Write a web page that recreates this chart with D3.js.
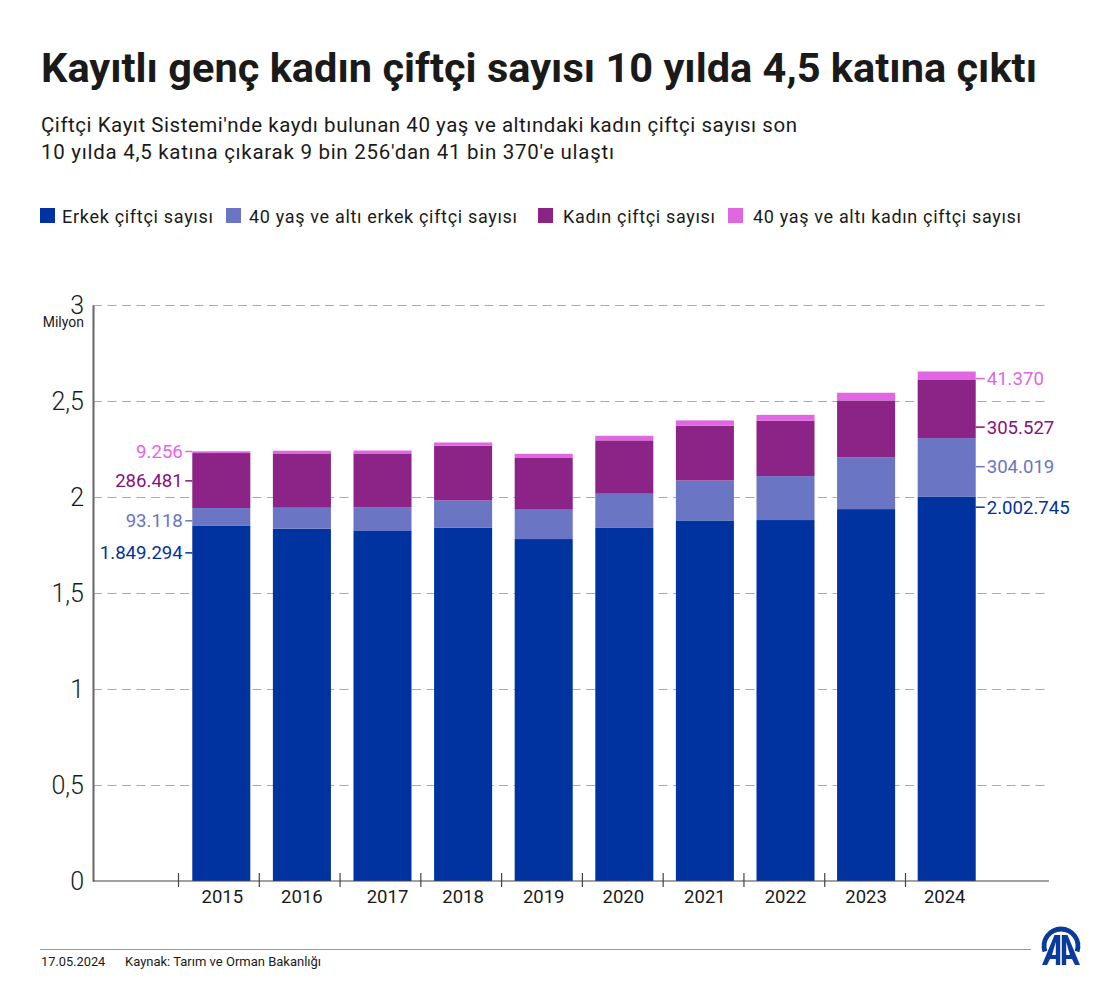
<!DOCTYPE html>
<html lang="tr">
<head>
<meta charset="utf-8">
<title>Kayıtlı genç kadın çiftçi sayısı</title>
<script src="https://cdn.jsdelivr.net/npm/d3@7"></script>
<style>
  html, body { margin: 0; padding: 0; background: #fff; }
  svg { display: block; }
  text { font-family: Roboto, sans-serif; fill: #1a1a1a; }
</style>
</head>
<body>
<svg id="chart" width="1120" height="999"></svg>
<script>
const years = [2015, 2016, 2017, 2018, 2019, 2020, 2021, 2022, 2023, 2024];

const seriesNames = ['Erkek çiftçi sayısı', '40 yaş ve altı erkek çiftçi sayısı', 'Kadın çiftçi sayısı', '40 yaş ve altı kadın çiftçi sayısı'];
const seriesColors = ['#0033a0', '#6a75c3', '#8c2386', '#e066e2'];

const erkek = [1849294, 1835000, 1823000, 1841000, 1781000, 1839000, 1878000, 1880000, 1937000, 2002745];
const gencErkek = [93118, 109000, 122000, 141000, 153000, 178000, 208000, 229000, 269000, 304019];
const kadin = [286481, 283000, 282000, 285000, 272000, 278000, 285000, 288000, 297000, 305527];
const gencKadin = [9256, 14000, 15000, 17000, 19000, 24000, 28000, 31000, 40000, 41370];

const yTicks = [0, 0.5, 1, 1.5, 2, 2.5, 3];

const leftLabels = ['1.849.294', '93.118', '286.481', '9.256'];
const leftLabelColors = ['#0033a0', '#6a75c3', '#87107f', '#ee5fee'];
const leftAnchors = [1.709, 1.876, 2.084, 2.237]; // in milyon, where each callout sits
const rightLabels = ['2.002.745', '304.019', '305.527', '41.370'];
const rightLabelColors = ['#0033a0', '#6a75c3', '#87107f', '#e066e2'];
const rightAnchors = [1.947, 2.158, 2.364, 2.617];

const svg = d3.select('#chart');

const margin = { top: 305, right: 71, bottom: 118, left: 93 };
const width = 1120;
const height = 999;
const plotBottom = height - margin.bottom;
const plotRight = width - margin.right;

// Header, textLength keeps the wider spacing of the original
svg.append('text').attr('x', 41).attr('y', 82)
  .attr('font-size', 41.5).attr('font-weight', 700)
  .attr('textLength', 996).attr('lengthAdjust', 'spacing')
  .text('Kayıtlı genç kadın çiftçi sayısı 10 yılda 4,5 katına çıktı');

svg.append('text').attr('x', 41).attr('y', 131.5).attr('font-size', 20.5)
  .attr('textLength', 756).attr('lengthAdjust', 'spacing')
  .text("Çiftçi Kayıt Sistemi'nde kaydı bulunan 40 yaş ve altındaki kadın çiftçi sayısı son");
svg.append('text').attr('x', 41).attr('y', 159).attr('font-size', 20.5)
  .attr('textLength', 573).attr('lengthAdjust', 'spacing')
  .text("10 yılda 4,5 katına çıkarak 9 bin 256'dan 41 bin 370'e ulaştı");

// Legend
const legendX = [40, 226, 538, 728];
const legendTextX = [62, 249, 563, 753];
const legendTextW = [151, 268, 152, 268];
const legend = svg.append('g').selectAll('g')
  .data(seriesNames)
  .join('g');
legend.append('rect')
  .attr('x', (d, i) => legendX[i]).attr('y', 208)
  .attr('width', 15).attr('height', 15).attr('fill', (d, i) => seriesColors[i]);
legend.append('text')
  .attr('x', (d, i) => legendTextX[i]).attr('y', 222.5)
  .attr('font-size', 18)
  .attr('textLength', (d, i) => legendTextW[i]).attr('lengthAdjust', 'spacing')
  .text(d => d);

// Scales
const y = d3.scaleLinear().domain([0, 3]).range([plotBottom, margin.top]);
const x = d3.scaleBand().domain(years).range([181, 987]).paddingInner(0.28).paddingOuter(0.14);
const xTick = d3.scalePoint().domain(years).range([178, 905]);

const fmt = d3.formatLocale({ decimal: ',', thousands: '.', grouping: [3], currency: ['', ''] }).format('~g');

// Grid
const grid = svg.append('g')
  .attr('transform', `translate(${margin.left},0)`)
  .call(d3.axisRight(y).tickValues(yTicks.filter(d => d > 0)).tickSize(plotRight - margin.left).tickFormat(''));
grid.select('.domain').remove();
grid.selectAll('line').attr('stroke', '#aaa').attr('stroke-width', 1.2).attr('stroke-dasharray', '9 5.5');

// Stacked bars
const rows = years.map((year, i) => ({ year, 0: erkek[i], 1: gencErkek[i], 2: kadin[i], 3: gencKadin[i] }));
const stacked = d3.stack().keys([0, 1, 2, 3])(rows);

svg.append('g').selectAll('g')
  .data(stacked)
  .join('g')
  .attr('fill', d => seriesColors[d.key])
  .selectAll('rect')
  .data(d => d)
  .join('rect')
  .attr('x', d => x(d.data.year))
  .attr('y', d => y(d[1] / 1e6))
  .attr('width', x.bandwidth())
  .attr('height', d => y(d[0] / 1e6) - y(d[1] / 1e6));

// Y axis
const yAxis = svg.append('g')
  .attr('transform', `translate(${margin.left},0)`)
  .call(d3.axisLeft(y).tickValues(yTicks).tickSize(0).tickPadding(9).tickFormat(fmt));
yAxis.select('.domain').attr('stroke', '#666').attr('stroke-width', 2);
yAxis.selectAll('text').attr('font-size', 25).attr('font-weight', 300).attr('fill', '#1a1a1a')
  .style('font-family', 'Roboto, sans-serif');

svg.append('text').attr('x', 84).attr('y', 327).attr('text-anchor', 'end').attr('font-size', 14).text('Milyon');

// X axis: baseline, ticks at band starts, labels under the bars
svg.append('line')
  .attr('x1', margin.left).attr('x2', plotRight)
  .attr('y1', plotBottom).attr('y2', plotBottom)
  .attr('stroke', '#444').attr('stroke-width', 1.2);

const xTicks = svg.append('g')
  .attr('transform', `translate(0,${plotBottom - 8})`)
  .call(d3.axisBottom(xTick).tickSize(14).tickFormat(''));
xTicks.select('.domain').remove();
xTicks.selectAll('line').attr('stroke', '#444').attr('stroke-width', 1.2);

const labelShift = { 2015: 1, 2017: 5, 2020: -1, 2024: -2 };
const xLabels = svg.append('g')
  .attr('transform', `translate(0,${plotBottom})`)
  .call(d3.axisBottom(x).tickSize(0).tickPadding(9).tickFormat(d => d));
xLabels.select('.domain').remove();
xLabels.selectAll('text').attr('font-size', 18.5).attr('fill', '#1a1a1a')
  .style('font-family', 'Roboto, sans-serif')
  .attr('dx', d => labelShift[d] || 0);

// Callouts for first and last year
function callouts(labels, colors, anchors, x1, x2, textX, anchor) {
  const g = svg.append('g').selectAll('g').data(labels).join('g');
  g.append('line')
    .attr('x1', x1).attr('x2', x2)
    .attr('y1', (d, i) => y(anchors[i])).attr('y2', (d, i) => y(anchors[i]))
    .attr('stroke', (d, i) => colors[i]).attr('stroke-width', 1.5);
  g.append('text')
    .attr('x', textX).attr('y', (d, i) => y(anchors[i]))
    .attr('dy', '0.35em').attr('text-anchor', anchor)
    .attr('font-size', 18.6)
    .style('fill', (d, i) => colors[i])
    .text(d => d);
}
const firstBar = x(years[0]);
const lastBar = x(years[years.length - 1]) + x.bandwidth();
callouts(leftLabels, leftLabelColors, leftAnchors, firstBar - 7, firstBar, firstBar - 9.5, 'end');
callouts(rightLabels, rightLabelColors, rightAnchors, lastBar, lastBar + 9, lastBar + 11, 'start');

// Footer
svg.append('line').attr('x1', 40).attr('x2', 1031).attr('y1', 949.5).attr('y2', 949.5)
  .attr('stroke', '#999').attr('stroke-width', 1);
svg.append('text').attr('x', 41).attr('y', 966).attr('font-size', 12.8).text('17.05.2024');
svg.append('text').attr('x', 125).attr('y', 966).attr('font-size', 13).text('Kaynak: Tarım ve Orman Bakanlığı');

// AA logo
const logo = svg.append('g').attr('transform', 'translate(1061,946)').attr('fill', '#0b3a9e');
logo.append('path').attr('d', d3.arc()({ innerRadius: 14.6, outerRadius: 19.4, startAngle: -1.9, endAngle: 1.9 }));
logo.append('path').attr('fill-rule', 'evenodd').attr('d',
  'M-6.5,-11 L-0.8,-11 L-0.8,19 L-5.2,19 L-5.2,13 L-11,13 L-14,19 L-19,19 Z M-5.2,-4 L-9,9 L-5.2,9 Z');
logo.append('path').attr('fill-rule', 'evenodd').attr('d',
  'M6.5,-11 L0.8,-11 L0.8,19 L5.2,19 L5.2,13 L11,13 L14,19 L19,19 Z M5.2,-4 L9,9 L5.2,9 Z');
</script>
</body>
</html>
